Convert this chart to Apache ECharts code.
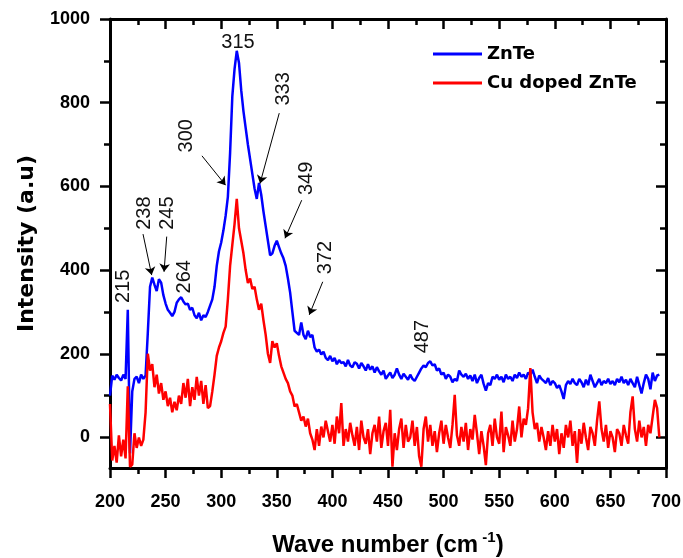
<!DOCTYPE html>
<html>
<head>
<meta charset="utf-8">
<script src="https://cdn.jsdelivr.net/npm/echarts@6/dist/echarts.min.js"></script>
<style>
html,body{margin:0;padding:0;background:#fff}
#main{width:683px;height:558px}
</style>
</head>
<body>
<div id="main"></div>
<script>
// Raman spectra, sampled every 2 cm-1 from 200 to 694
var waveStart = 200, waveStep = 2;

var znte = [
  100,148,138,150,142,136,150,140,305,-38,
  110,140,145,130,150,140,148,250,360,382,
  365,350,378,370,340,320,305,298,290,300,
  322,330,335,325,318,320,305,310,292,285,
  298,280,292,288,300,315,330,360,410,445,
  466,495,530,575,680,815,880,924,895,830,
  780,740,700,665,630,595,570,608,580,540,
  505,470,435,440,458,470,455,440,428,410,
  380,346,300,255,250,245,275,245,235,255,
  240,245,215,205,210,198,205,190,185,195,
  182,190,175,185,178,180,170,185,172,168,
  180,176,165,178,170,160,175,162,170,155,
  168,158,150,160,140,148,155,142,150,165,
  150,140,152,145,138,150,140,135,145,155,
  165,172,168,178,182,172,175,160,165,150,
  155,140,150,145,132,140,135,160,150,145,
  152,140,148,135,150,130,142,150,128,112,
  130,125,145,140,150,138,145,132,150,140,
  145,135,150,142,155,145,150,140,155,150,
  162,145,130,148,140,135,130,142,125,135,
  130,118,125,110,92,125,135,128,140,130,
  125,140,132,120,138,125,150,135,120,130,
  140,125,135,130,140,128,135,125,140,132,
  145,130,138,125,140,130,120,145,125,105,
  130,150,140,115,155,135,148,150
];

var cuZnte = [
  80,-55,-20,-60,5,-45,-5,-50,122,-70,
  -65,10,-25,0,-20,-5,60,200,160,175,
  120,150,105,130,90,110,75,95,60,85,
  65,100,80,130,95,140,75,120,90,145,
  100,135,80,125,70,75,110,150,195,215,
  230,250,265,330,410,460,510,570,500,470,
  440,400,369,380,355,360,330,305,320,280,
  245,200,178,230,215,225,195,170,155,140,
  130,110,100,74,80,60,40,50,26,45,
  10,-5,-30,20,-20,26,0,40,15,-10,
  30,-15,50,10,82,-20,20,-10,35,5,
  -20,25,-30,40,0,-15,20,-40,10,30,
  -10,50,-25,15,35,-20,66,-70,10,-30,
  20,45,-25,30,-10,0,40,-20,25,-45,
  -70,20,50,-10,30,-20,15,-35,10,40,
  -15,30,0,-25,30,102,5,-20,25,-10,
  35,-30,20,-5,54,10,-40,15,-20,-66,
  10,30,-20,45,0,-15,62,-35,25,5,
  -20,40,-10,20,74,0,45,30,70,166,
  60,20,35,-10,25,0,-30,15,-20,30,
  -10,20,-40,10,-25,30,0,40,-20,15,
  -61,20,-15,35,0,-30,25,10,-20,40,
  86,20,-10,30,-25,15,0,-35,20,10,
  -20,30,5,-15,60,98,20,-10,40,0,
  25,-20,30,10,50,90,70,0
];

var yMajor = [0, 200, 400, 600, 800, 1000];
var yMinor = [100, 300, 500, 700, 900];

// peak labels: text, wavenumber, intensity, rotation
var peakLabels = [
  ['215', 212, 361, 90],
  ['238', 230.6, 536, 90],
  ['245', 251.9, 536, 90],
  ['264', 267.4, 384, 90],
  ['300', 269, 721, 90],
  ['315', 315.1, 944, 0],
  ['333', 355.8, 833, 90],
  ['349', 376.9, 619, 90],
  ['372', 394.1, 430, 90],
  ['487', 481, 241, 90]
];
// arrows: from (x,y) to (x,y)
var peakArrows = [
  [229.7, 486, 237.5, 388],
  [251, 480, 248.6, 396],
  [282.7, 673, 303.9, 603],
  [352.2, 775, 334.9, 607],
  [372.4, 567, 357.4, 476],
  [391.3, 372, 379.2, 293]
];

function pairs(vals) {
  var out = [];
  for (var i = 0; i < vals.length; i++) out.push([waveStart + i * waveStep, vals[i]]);
  return out;
}

var chart = echarts.init(document.getElementById('main'));
function tickFont() {
  return { color: '#000', fontFamily: 'Liberation Sans', fontWeight: 'bold', fontSize: 18,
    formatter: function (v) { return String(v); } };
}
function tickLine() { return { color: '#000', width: 2.5 }; }

var markPts = peakLabels.map(function (p) {
  return { name: p[0], coord: [p[1], p[2]], label: { rotate: p[3] } };
});
var markLns = peakArrows.map(function (a) {
  return [{ coord: [a[0], a[1]] }, { coord: [a[2], a[3]] }];
});

function yAx(pos, inside, vals, len, label, line) {
  return {
    type: 'value', min: -73, max: 1000, position: pos,
    axisLine: { show: line, onZero: false, lineStyle: { color: '#000', width: 3 } },
    axisTick: { show: true, inside: inside, length: len, customValues: vals, lineStyle: tickLine() },
    axisLabel: label ? Object.assign({ show: true, margin: 20, customValues: vals }, tickFont()) : { show: false },
    splitLine: { show: false }
  };
}

function xAx(pos, inside, label) {
  return {
    type: 'value', min: 200, max: 700, interval: 50, position: pos,
    axisLine: { show: true, onZero: false, lineStyle: { color: '#000', width: 3 } },
    axisTick: { show: true, inside: inside, length: 10, lineStyle: tickLine() },
    minorTick: { show: true, splitNumber: 2, length: 6, lineStyle: tickLine() },
    axisLabel: label ? Object.assign({ show: true, margin: 25 }, tickFont()) : { show: false },
    splitLine: { show: false }
  };
}

var option = {
  animation: false,
  grid: { left: 110, right: 17, top: 19, bottom: 90, outerBoundsMode: 'none' },
  legend: {
    left: 428, top: 39, orient: 'vertical', icon: 'rect',
    itemWidth: 49, itemHeight: 3, itemGap: 9,
    textStyle: { color: '#000', fontFamily: 'DejaVu Sans', fontWeight: 'bold', fontSize: 18, lineHeight: 20 },
    data: ['ZnTe', 'Cu doped ZnTe']
  },
  xAxis: [
    Object.assign(xAx('bottom', false, true), {
      name: '{a|Wave number (cm}{s| -1}{a|)}', nameLocation: 'middle', nameGap: 62,
      nameTextStyle: {
        rich: {
          a: { fontFamily: 'Liberation Sans', fontWeight: 'bold', fontSize: 24, lineHeight: 30, color: '#000' },
          s: { fontFamily: 'Liberation Sans', fontWeight: 'bold', fontSize: 15, lineHeight: 15, verticalAlign: 'top', color: '#000' }
        }
      }
    }),
    xAx('top', true, false)
  ],
  yAxis: [
    Object.assign(yAx('left', false, yMajor, 10, true, true), {
      name: 'Intensity (a.u)', nameLocation: 'middle', nameGap: 72,
      nameTextStyle: { color: '#000', fontFamily: 'DejaVu Sans', fontWeight: 'bold', fontSize: 22 }
    }),
    yAx('left', false, yMinor, 6, false, false),
    yAx('right', true, yMajor, 10, false, true),
    yAx('right', true, yMinor, 6, false, false)
  ],
  series: [
    {
      name: 'ZnTe', type: 'line', data: pairs(znte), showSymbol: false,
      color: '#0000ff', lineStyle: { width: 2.5, color: '#0000ff' },
      markPoint: {
        symbol: 'circle', symbolSize: 0, silent: true,
        label: { show: true, position: 'inside', formatter: '{b}', color: '#111', fontFamily: 'Liberation Sans', fontSize: 20 },
        data: markPts
      },
      markLine: {
        silent: true, symbol: ['none', 'arrow'], symbolSize: 8,
        lineStyle: { color: '#000', width: 1, type: 'solid' },
        label: { show: false },
        data: markLns
      }
    },
    {
      name: 'Cu doped ZnTe', type: 'line', data: pairs(cuZnte), showSymbol: false,
      color: '#ff0000', lineStyle: { width: 2.5, color: '#ff0000' }
    }
  ]
};

chart.setOption(option, true);
</script>
</body>
</html>
